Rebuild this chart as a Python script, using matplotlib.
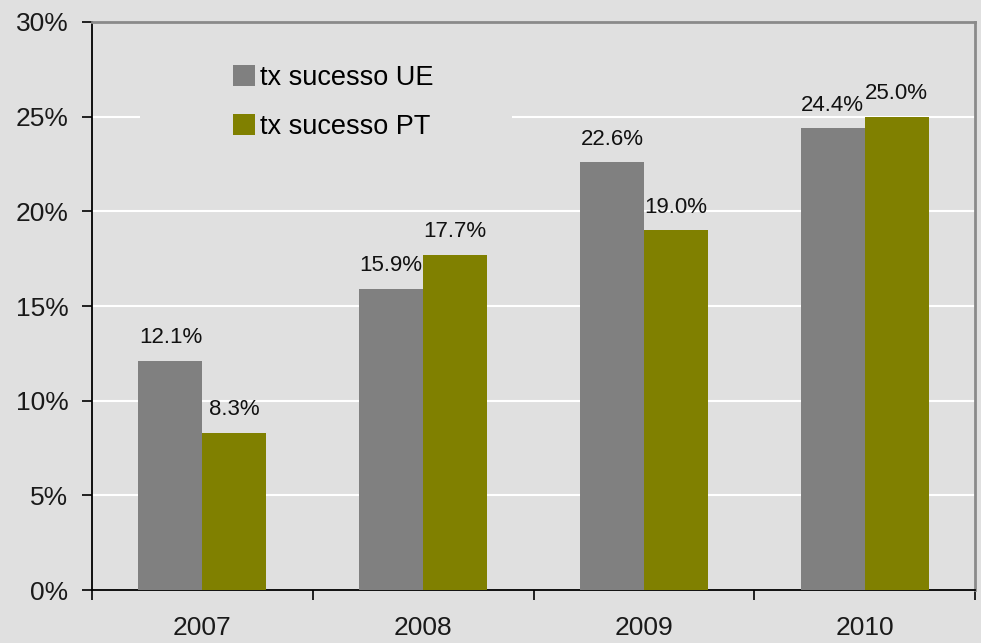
import numpy as np
import matplotlib
matplotlib.use("Agg")
import matplotlib.pyplot as plt
from matplotlib.patches import Rectangle

plt.rcParams['font.family'] = ['Liberation Sans', 'DejaVu Sans']

# data
years = ['2007', '2008', '2009', '2010']
ue = [12.1, 15.9, 22.6, 24.4]
pt = [8.3, 17.7, 19.0, 25.0]
ue_labels = ['12.1%', '15.9%', '22.6%', '24.4%']
pt_labels = ['8.3%', '17.7%', '19.0%', '25.0%']
yticks = [0, 5, 10, 15, 20, 25, 30]

bg = '#e0e0e0'
fig = plt.figure(figsize=(9.81, 6.43), dpi=100, facecolor=bg)
ax = fig.add_axes([0.0938, 0.0824, 0.9001, 0.8834])
ax.set_facecolor(bg)

x = np.arange(len(years))
w = 0.29
b1 = ax.bar(x - w / 2, ue, w, color='#808080', label='tx sucesso UE', zorder=3)
b2 = ax.bar(x + w / 2, pt, w, color='#808000', label='tx sucesso PT', zorder=3)

for bars, labs in [(b1, ue_labels), (b2, pt_labels)]:
    for rect, lab in zip(bars, labs):
        ax.annotate(lab, (rect.get_x() + rect.get_width() / 2, rect.get_height()),
                    xytext=(0, 9), textcoords='offset points',
                    ha='center', va='bottom', fontsize=16, color='#111111', zorder=5)

ax.set_xlim(-0.5, len(years) - 0.5)
ax.set_ylim(0, 30)
ax.set_yticks(yticks)
ax.set_yticklabels([f'{t}%' for t in yticks])
ax.set_xticks(x)
ax.set_xticklabels(years)
ax.set_xticks(np.arange(len(years) + 1) - 0.5, minor=True)

ax.tick_params(axis='x', which='major', length=0, pad=19, labelsize=19, labelcolor='#1a1a1a')
ax.tick_params(axis='x', which='minor', length=7, width=1.2, direction='out', color='black')
ax.tick_params(axis='y', length=7, width=1.2, direction='out', pad=10, labelsize=19,
               labelcolor='#1a1a1a')

# white gridlines
for t in yticks[1:-1]:
    ax.axhline(t, color='white', lw=1.5, zorder=1)

for s in ['left', 'bottom']:
    ax.spines[s].set_color('black')
    ax.spines[s].set_linewidth(1.3)
for s in ['top', 'right']:
    ax.spines[s].set_color('#8a8a8a')
    ax.spines[s].set_linewidth(2)

# legend background box hiding the gridline
ax.add_patch(Rectangle((0.054, 0.76), 0.422, 0.2, transform=ax.transAxes,
                       facecolor=bg, edgecolor='none', zorder=2))
ax.legend(loc='upper left', bbox_to_anchor=(0.16, 0.925), frameon=False,
          fontsize=19.5, handlelength=0.8, handleheight=0.8, handletextpad=0.2,
          labelspacing=0.85, borderaxespad=0, borderpad=0)

fig.savefig('out.png', dpi=100, facecolor=bg)
